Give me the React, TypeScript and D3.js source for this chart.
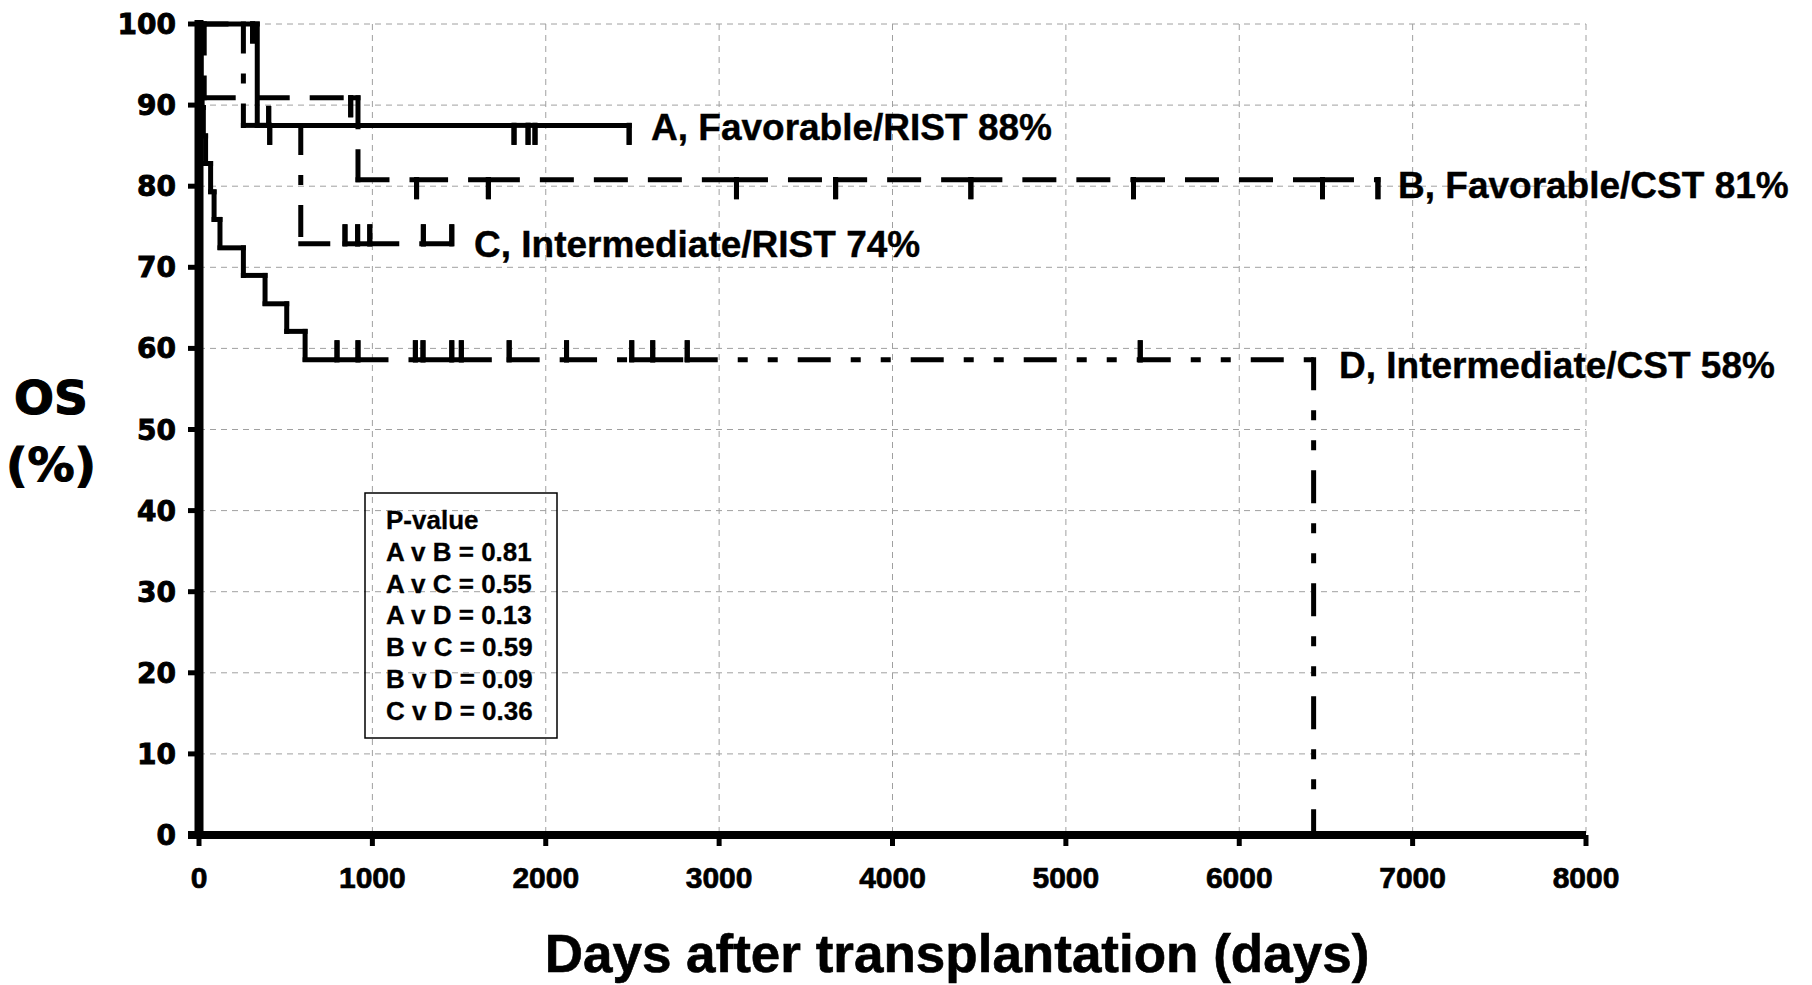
import React from "react";
import * as d3 from "d3";

// axis ticks
const xTicks = [0, 1000, 2000, 3000, 4000, 5000, 6000, 7000, 8000];
const yTicks = [0, 10, 20, 30, 40, 50, 60, 70, 80, 90, 100];

// A, Favorable/RIST
const aDeathDays = [336];
const aSurvival = [87.5];
const aCensorDays = [309, 408, 1817, 1898, 1938, 2481];
const aEndDay = 2481;

// B, Favorable/CST
const bDeathDays = [30, 917];
const bSurvival = [90.9, 80.8];
const bCensorDays = [875, 1255, 1669, 3100, 3672, 4452, 5390, 6480, 6800];
const bEndDay = 6800;

// C, Intermediate/RIST
const cDeathDays = [256, 587];
const cSurvival = [87.5, 72.9];
const cCensorDays = [402, 842, 915, 985, 1294, 1458];
const cEndDay = 1458;

// D, Intermediate/CST
const dDeathDays = [5, 12, 18, 25, 38, 67, 87, 121, 256, 381, 506, 612, 6429];
const dSurvival = [96.6, 93.1, 89.7, 86.2, 82.8, 79.3, 75.9, 72.4, 69.0, 65.5, 62.1, 58.6, 0];
const dCensorDays = [796, 917, 1248, 1292, 1458, 1513, 1789, 2120, 2496, 2617, 2816, 5429];
const dEndDay = 6429;

const curveLabels = [
  "A, Favorable/RIST 88%",
  "B, Favorable/CST 81%",
  "C, Intermediate/RIST 74%",
  "D, Intermediate/CST 58%",
];

const pValueLines = [
  "P-value",
  "A v B = 0.81",
  "A v C = 0.55",
  "A v D = 0.13",
  "B v C = 0.59",
  "B v D = 0.09",
  "C v D = 0.36",
];

const W = 1812;
const H = 985;
const LW = 5;
const TICK = 17;
const bold = "'Liberation Sans', Arial, sans-serif";
const wide = "'DejaVu Sans', sans-serif";

// dash lengths as seen, corrected for square caps
function dashes(seen: number[]) {
  if (!seen.length) return undefined;
  return seen.map((v, i) => (i % 2 === 0 ? Math.max(v - LW, 0.1) : v + LW)).join(",");
}

function stepVertices(deaths, surv, censors, endDay, dir, x, y) {
  const ev = [
    ...deaths.map((t, i) => ({ t, kind: "d", s: surv[i] })),
    ...censors.map((t) => ({ t, kind: "c", s: 0 })),
  ].sort((a, b) => a.t - b.t);
  let cur = 100;
  const pts: [number, number][] = [[x(0), y(100)]];
  ev.forEach((e) => {
    if (e.kind === "d") {
      pts.push([x(e.t), y(cur)]);
      cur = e.s;
      pts.push([x(e.t), y(cur)]);
    } else {
      pts.push([x(e.t), y(cur)]);
      pts.push([x(e.t), y(cur) + dir * TICK]);
      pts.push([x(e.t), y(cur)]);
    }
  });
  const last = pts[pts.length - 1];
  if (x(endDay) > last[0]) pts.push([x(endDay), y(cur)]);
  return pts;
}

export default function App() {
  const x = d3.scaleLinear().domain([0, 8000]).range([199, 1586]);
  const y = d3.scaleLinear().domain([0, 100]).range([835, 24]);

  const series = [
    { pts: stepVertices(aDeathDays, aSurvival, aCensorDays, aEndDay, 1, x, y), dash: [] },
    { pts: stepVertices(bDeathDays, bSurvival, bCensorDays, bEndDay, 1, x, y), dash: [34, 20] },
    { pts: stepVertices(cDeathDays, cSurvival, cCensorDays, cEndDay, -1, x, y), dash: [32, 20, 10, 20] },
    { pts: stepVertices(dDeathDays, dSurvival, dCensorDays, dEndDay, -1, x, y), dash: [33, 20, 10, 20, 10, 20] },
  ];

  const labelPos = [
    [651, 140],
    [1398, 198],
    [474, 257],
    [1339, 378],
  ];

  return (
    <svg
      width={W}
      height={H}
      style={{ position: "absolute", left: 0, top: 0, background: "#fff" }}
    >
      {/* grid */}
      <g stroke="#a0a0a0" strokeWidth={1} strokeDasharray="6,5">
        {yTicks.slice(1).map((t) => (
          <line key={"gy" + t} x1={x(0)} x2={x(8000)} y1={y(t)} y2={y(t)} />
        ))}
        {xTicks.slice(1).map((t) => (
          <line key={"gx" + t} x1={x(t)} x2={x(t)} y1={y(100)} y2={y(0)} />
        ))}
      </g>

      {/* curves, dash pattern restarts at every vertex */}
      {series.map((s, si) => (
        <g key={si} stroke="#000" strokeWidth={LW} strokeLinecap="square" fill="none">
          {s.pts.slice(1).map((p, i) => {
            const q = s.pts[i];
            if (q[0] === p[0] && q[1] === p[1]) return null;
            return (
              <line
                key={i}
                x1={q[0]}
                y1={q[1]}
                x2={p[0]}
                y2={p[1]}
                strokeDasharray={dashes(s.dash)}
              />
            );
          })}
        </g>
      ))}

      {/* axes */}
      <g stroke="#000">
        <line x1={x(0)} x2={x(0)} y1={y(100) - 4} y2={y(0) + 4} strokeWidth={9} />
        <line x1={x(0) - 11} x2={x(8000)} y1={y(0)} y2={y(0)} strokeWidth={8} />
        {yTicks.map((t) => (
          <line key={"ty" + t} x1={x(0) - 11} x2={x(0)} y1={y(t)} y2={y(t)} strokeWidth={5} />
        ))}
        {xTicks.map((t) => (
          <line key={"tx" + t} x1={x(t)} x2={x(t)} y1={y(0)} y2={y(0) + 11} strokeWidth={5} />
        ))}
      </g>

      {/* tick labels */}
      <g
        fontFamily={wide}
        fontWeight="bold"
        fontSize={28}
        textAnchor="end"
        stroke="#000"
        strokeWidth={0.9}
      >
        {yTicks.map((t) => (
          <text key={"ly" + t} x={176} y={y(t)} dy="0.36em">
            {t}
          </text>
        ))}
      </g>
      <g
        fontFamily={bold}
        fontWeight="bold"
        fontSize={30}
        textAnchor="middle"
        stroke="#000"
        strokeWidth={0.7}
      >
        {xTicks.map((t) => (
          <text key={"lx" + t} x={x(t)} y={888}>
            {t}
          </text>
        ))}
      </g>

      {/* axis titles */}
      <g
        fontFamily={wide}
        fontWeight="bold"
        fontSize={47}
        textAnchor="middle"
        stroke="#000"
        strokeWidth={1.2}
      >
        <text x={51} y={414}>OS</text>
        <text x={51} y={481}>(%)</text>
      </g>
      <text
        x={957}
        y={972}
        fontFamily={bold}
        fontWeight="bold"
        fontSize={53}
        textAnchor="middle"
        stroke="#000"
        strokeWidth={0.6}
      >
        Days after transplantation (days)
      </text>

      {/* curve labels */}
      <g fontFamily={bold} fontWeight="bold" fontSize={37} stroke="#000" strokeWidth={0.4}>
        {curveLabels.map((l, i) => (
          <text key={l} x={labelPos[i][0]} y={labelPos[i][1]}>
            {l}
          </text>
        ))}
      </g>

      {/* p-value box */}
      <rect x={365} y={493} width={192} height={245} fill="none" stroke="#000" strokeWidth={1.5} />
      <g fontFamily={bold} fontWeight="bold" fontSize={26} stroke="#000" strokeWidth={0.3}>
        {pValueLines.map((l, i) => (
          <text key={l} x={386} y={529 + i * 31.8}>
            {l}
          </text>
        ))}
      </g>
    </svg>
  );
}
